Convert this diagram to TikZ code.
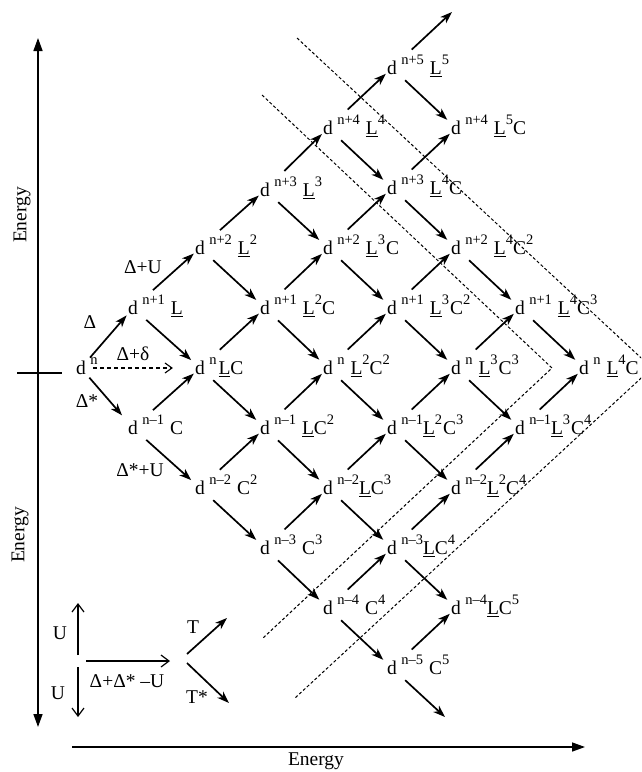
\documentclass[tikz,border=0pt]{standalone}
\usepackage{fontspec}
\setmainfont{Liberation Serif}
\usetikzlibrary{arrows.meta}
\newcommand{\Sup}[1]{\raisebox{10.5pt}{\fontsize{14.5}{14.5}\selectfont #1}}
\newcommand{\uL}{\underline{L}}
\newcommand{\gS}{\hspace{4pt}}
\newcommand{\gL}{\hspace{6pt}}
\begin{document}
\begin{tikzpicture}[x=1pt,y=-1pt,
  dn/.style={inner sep=0pt, font=\fontsize{19.5}{22}\selectfont},
  lab/.style={inner sep=0pt, anchor=base west, font=\fontsize{19.5}{22}\selectfont},
  txt/.style={inner sep=0pt, font=\fontsize{19.5}{22}\selectfont},
  arr/.style={line width=1.7pt, -{Stealth[length=12pt,width=8.5pt,inset=3.5pt]}},
  upar/.style={arr, shorten <=20pt, shorten >=1.5pt},
  dwar/.style={arr, shorten <=11pt, shorten >=5pt},
  dashln/.style={line width=1pt, dash pattern=on 3pt off 2.2pt},
  axisar/.style={line width=1.5pt, -{Triangle[length=13pt,width=9pt]}},
  openar/.style={line width=1.2pt, -{Straight Barb[length=8pt,width=12pt]}}
]
\useasboundingbox (0,0) rectangle (641,772);
\clip (0,0) rectangle (641,772);

% dashed chevrons
\draw[dashln] (262,95) -- (552,368) -- (263,638);
\draw[dashln] (297,38) -- (652,368) -- (295,698);

% lattice nodes (the letter d)
\node[dn] (n00) at (81,368) {d};
\node[dn] (n10) at (133,308) {d};
\node[dn] (n01) at (133,428) {d};
\node[dn] (n20) at (200,248) {d};
\node[dn] (n11) at (200,368) {d};
\node[dn] (n02) at (200,488) {d};
\node[dn] (n30) at (265,190) {d};
\node[dn] (n21) at (265,308) {d};
\node[dn] (n12) at (265,428) {d};
\node[dn] (n03) at (265,548) {d};
\node[dn] (n40) at (328,128) {d};
\node[dn] (n31) at (328,248) {d};
\node[dn] (n22) at (328,368) {d};
\node[dn] (n13) at (328,488) {d};
\node[dn] (n04) at (328,608) {d};
\node[dn] (n50) at (392,68) {d};
\node[dn] (n41) at (392,188) {d};
\node[dn] (n32) at (392,308) {d};
\node[dn] (n23) at (392,428) {d};
\node[dn] (n14) at (392,548) {d};
\node[dn] (n05) at (392,668) {d};
\node[dn] (n51) at (456,128) {d};
\node[dn] (n42) at (456,248) {d};
\node[dn] (n33) at (456,368) {d};
\node[dn] (n24) at (456,488) {d};
\node[dn] (n15) at (456,608) {d};
\node[dn] (n43) at (520,308) {d};
\node[dn] (n34) at (520,428) {d};
\node[dn] (n44) at (584,368) {d};

% rest of the labels
\node[lab] (t00) at (n00.base east) {\gS\Sup{n}};
\node[lab] (t10) at (n10.base east) {\gS\Sup{n+1}\gL\uL};
\node[lab] (t01) at (n01.base east) {\gS\Sup{n–1}\gL C};
\node[lab] (t20) at (n20.base east) {\gS\Sup{n+2}\gL\uL\Sup{2}};
\node[lab] (t11) at (n11.base east) {\gS\Sup{n}\hspace{2pt}\uL C};
\node[lab] (t02) at (n02.base east) {\gS\Sup{n–2}\gL C\Sup{2}};
\node[lab] (t30) at (n30.base east) {\gS\Sup{n+3}\gL\uL\Sup{3}};
\node[lab] (t21) at (n21.base east) {\gS\Sup{n+1}\gL\uL\Sup{2}C};
\node[lab] (t12) at (n12.base east) {\gS\Sup{n–1}\gL\uL C\Sup{2}};
\node[lab] (t03) at (n03.base east) {\gS\Sup{n–3}\gL C\Sup{3}};
\node[lab] (t40) at (n40.base east) {\gS\Sup{n+4}\gL\uL\Sup{4}};
\node[lab] (t31) at (n31.base east) {\gS\Sup{n+2}\gL\uL\Sup{3}\hspace{1pt}C};
\node[lab] (t22) at (n22.base east) {\gS\Sup{n}\gL\uL\Sup{2}C\Sup{2}};
\node[lab] (t13) at (n13.base east) {\gS\Sup{n–2}\uL C\Sup{3}};
\node[lab] (t04) at (n04.base east) {\gS\Sup{n–4}\gL C\Sup{4}};
\node[lab] (t50) at (n50.base east) {\gS\Sup{n+5}\gL\uL\Sup{5}};
\node[lab] (t41) at (n41.base east) {\gS\Sup{n+3}\gL\uL\Sup{4}C};
\node[lab] (t32) at (n32.base east) {\gS\Sup{n+1}\gL\uL\Sup{3}\hspace{1pt}C\Sup{2}};
\node[lab] (t23) at (n23.base east) {\gS\Sup{n–1}\uL\Sup{2}\hspace{1pt}C\Sup{3}};
\node[lab] (t14) at (n14.base east) {\gS\Sup{n–3}\uL C\Sup{4}};
\node[lab] (t05) at (n05.base east) {\gS\Sup{n–5}\gL C\Sup{5}};
\node[lab] (t51) at (n51.base east) {\gS\Sup{n+4}\gL\uL\Sup{5}C};
\node[lab] (t42) at (n42.base east) {\gS\Sup{n+2}\gL\uL\Sup{4}C\Sup{2}};
\node[lab] (t33) at (n33.base east) {\gS\Sup{n}\gL\uL\Sup{3}\hspace{1pt}C\Sup{3}};
\node[lab] (t24) at (n24.base east) {\gS\Sup{n–2}\uL\Sup{2}C\Sup{4}};
\node[lab] (t15) at (n15.base east) {\gS\Sup{n–4}\uL C\Sup{5}};
\node[lab] (t43) at (n43.base east) {\gS\Sup{n+1}\gL\uL\Sup{4}C\Sup{3}};
\node[lab] (t34) at (n34.base east) {\gS\Sup{n–1}\uL\Sup{3}\hspace{1pt}C\Sup{4}};
\node[lab] (t44) at (n44.base east) {\gS\Sup{n}\gL\uL\Sup{4}C};

% up-right arrows
\draw[arr, shorten <=6pt, shorten >=2pt] (n00) -- (n10);
\foreach \s/\t in {n10/n20, n20/n30, n30/n40, n40/n50,
                   n01/n11, n11/n21, n21/n31, n31/n41, n41/n51,
                   n02/n12, n12/n22, n22/n32, n32/n42,
                   n03/n13, n13/n23, n23/n33, n33/n43,
                   n04/n14, n14/n24, n24/n34,
                   n05/n15, n34/n44}
  \draw[upar] (\s) -- (\t);
% down-right arrows
\draw[arr, shorten <=5pt, shorten >=9pt] (n00) -- (n01);
\foreach \s/\t in {n01/n02, n02/n03, n03/n04, n04/n05,
                   n10/n11, n11/n12, n12/n13, n13/n14, n14/n15,
                   n20/n21, n21/n22, n22/n23, n23/n24,
                   n30/n31, n31/n32, n32/n33, n33/n34,
                   n40/n41, n41/n42, n42/n43, n43/n44,
                   n50/n51}
  \draw[dwar] (\s) -- (\t);
% free ends
\coordinate (topend) at (452,12);
\coordinate (botend) at (445,717);
\draw[arr, shorten <=20pt] (n50) -- (topend);
\draw[arr, shorten <=11pt] (n05) -- (botend);

% dashed Delta+delta arrow
\draw[line width=1.1pt, dash pattern=on 4pt off 3pt, -{Straight Barb[length=7pt,width=10pt]}, shorten <=7pt, shorten >=22pt] (n00) -- (n11);

% energy labels on transitions
\node[txt] (lD) at (90,322) {Δ};
\node[txt] (lDU) at (143,267) {Δ+U};
\node[txt] (lDd) at (133,354) {Δ+δ};
\node[txt] (lDs) at (87,401) {Δ*};
\node[txt] (lDsU) at (140,470) {Δ*+U};

% axes
\coordinate (tick) at (38,373);
\coordinate (tickL) at (17,373);
\coordinate (tickR) at (62,373);
\coordinate (ytop) at (38,38);
\coordinate (ybot) at (38,727);
\coordinate (xl) at (72,747);
\coordinate (xr) at (585,747);
\draw[line width=1.2pt] (tickL) -- (tickR);
\draw[axisar] (tick) -- (ytop);
\draw[axisar] (tick) -- (ybot);
\draw[axisar] (xl) -- (xr);
\node[txt, rotate=90] (e1) at (22,215) {Energy};
\node[txt, rotate=90] (e2) at (20,535) {Energy};
\node[txt] (e3) at (316,761) {Energy};

% legend
\coordinate (uu0) at (78,655); \coordinate (uu1) at (78,603);
\coordinate (ud0) at (78,667); \coordinate (ud1) at (78,717);
\coordinate (h0) at (86,661); \coordinate (h1) at (170,661);
\coordinate (T0) at (187,654); \coordinate (T1) at (227,618);
\coordinate (Ts0) at (187,663); \coordinate (Ts1) at (229,703);
\draw[openar] (uu0) -- (uu1);
\draw[openar] (ud0) -- (ud1);
\draw[openar] (h0) -- (h1);
\draw[arr] (T0) -- (T1);
\draw[arr] (Ts0) -- (Ts1);
\node[txt] (lU1) at (60,633) {U};
\node[txt] (lU2) at (58,693) {U};
\node[txt] (lH) at (127,681) {Δ+Δ* –U};
\node[txt] (lT) at (193,627) {T};
\node[txt] (lTs) at (197,697) {T*};
\end{tikzpicture}
\end{document}
